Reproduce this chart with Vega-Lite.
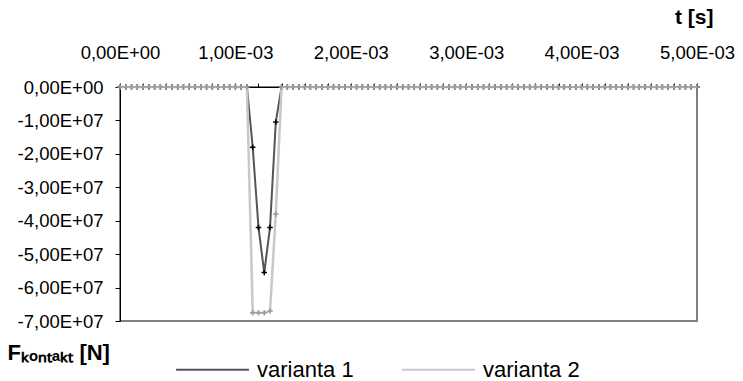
{
  "$schema": "https://vega.github.io/schema/vega-lite/v6.json",
  "autosize": "none",
  "width": 577,
  "height": 234,
  "padding": {"left": 120, "top": 87, "right": 46, "bottom": 60},
  "background": "white",
  "config": {
    "font": "Liberation Sans",
    "view": {"stroke": "#808080", "strokeWidth": 2},
    "axis": {"grid": false, "domainColor": "black", "tickColor": "black", "labelColor": "black", "titleColor": "black"}
  },
  "data": {"values": [
    {"t":0,"F":0,"s":"varianta 1"},{"t":0.00005,"F":0,"s":"varianta 1"},{"t":0.0001,"F":0,"s":"varianta 1"},{"t":0.00015,"F":0,"s":"varianta 1"},{"t":0.0002,"F":0,"s":"varianta 1"},{"t":0.00025,"F":0,"s":"varianta 1"},{"t":0.0003,"F":0,"s":"varianta 1"},{"t":0.00035,"F":0,"s":"varianta 1"},{"t":0.0004,"F":0,"s":"varianta 1"},{"t":0.00045,"F":0,"s":"varianta 1"},
    {"t":0.0005,"F":0,"s":"varianta 1"},{"t":0.00055,"F":0,"s":"varianta 1"},{"t":0.0006,"F":0,"s":"varianta 1"},{"t":0.00065,"F":0,"s":"varianta 1"},{"t":0.0007,"F":0,"s":"varianta 1"},{"t":0.00075,"F":0,"s":"varianta 1"},{"t":0.0008,"F":0,"s":"varianta 1"},{"t":0.00085,"F":0,"s":"varianta 1"},{"t":0.0009,"F":0,"s":"varianta 1"},{"t":0.00095,"F":0,"s":"varianta 1"},
    {"t":0.001,"F":0,"s":"varianta 1"},{"t":0.00105,"F":0,"s":"varianta 1"},{"t":0.0011,"F":0,"s":"varianta 1"},{"t":0.00115,"F":-18000000,"s":"varianta 1"},{"t":0.0012,"F":-42000000,"s":"varianta 1"},{"t":0.00125,"F":-55500000,"s":"varianta 1"},{"t":0.0013,"F":-42000000,"s":"varianta 1"},{"t":0.00135,"F":-10500000,"s":"varianta 1"},{"t":0.0014,"F":0,"s":"varianta 1"},{"t":0.00145,"F":0,"s":"varianta 1"},
    {"t":0.0015,"F":0,"s":"varianta 1"},{"t":0.00155,"F":0,"s":"varianta 1"},{"t":0.0016,"F":0,"s":"varianta 1"},{"t":0.00165,"F":0,"s":"varianta 1"},{"t":0.0017,"F":0,"s":"varianta 1"},{"t":0.00175,"F":0,"s":"varianta 1"},{"t":0.0018,"F":0,"s":"varianta 1"},{"t":0.00185,"F":0,"s":"varianta 1"},{"t":0.0019,"F":0,"s":"varianta 1"},{"t":0.00195,"F":0,"s":"varianta 1"},
    {"t":0.002,"F":0,"s":"varianta 1"},{"t":0.00205,"F":0,"s":"varianta 1"},{"t":0.0021,"F":0,"s":"varianta 1"},{"t":0.00215,"F":0,"s":"varianta 1"},{"t":0.0022,"F":0,"s":"varianta 1"},{"t":0.00225,"F":0,"s":"varianta 1"},{"t":0.0023,"F":0,"s":"varianta 1"},{"t":0.00235,"F":0,"s":"varianta 1"},{"t":0.0024,"F":0,"s":"varianta 1"},{"t":0.00245,"F":0,"s":"varianta 1"},
    {"t":0.0025,"F":0,"s":"varianta 1"},{"t":0.00255,"F":0,"s":"varianta 1"},{"t":0.0026,"F":0,"s":"varianta 1"},{"t":0.00265,"F":0,"s":"varianta 1"},{"t":0.0027,"F":0,"s":"varianta 1"},{"t":0.00275,"F":0,"s":"varianta 1"},{"t":0.0028,"F":0,"s":"varianta 1"},{"t":0.00285,"F":0,"s":"varianta 1"},{"t":0.0029,"F":0,"s":"varianta 1"},{"t":0.00295,"F":0,"s":"varianta 1"},
    {"t":0.003,"F":0,"s":"varianta 1"},{"t":0.00305,"F":0,"s":"varianta 1"},{"t":0.0031,"F":0,"s":"varianta 1"},{"t":0.00315,"F":0,"s":"varianta 1"},{"t":0.0032,"F":0,"s":"varianta 1"},{"t":0.00325,"F":0,"s":"varianta 1"},{"t":0.0033,"F":0,"s":"varianta 1"},{"t":0.00335,"F":0,"s":"varianta 1"},{"t":0.0034,"F":0,"s":"varianta 1"},{"t":0.00345,"F":0,"s":"varianta 1"},
    {"t":0.0035,"F":0,"s":"varianta 1"},{"t":0.00355,"F":0,"s":"varianta 1"},{"t":0.0036,"F":0,"s":"varianta 1"},{"t":0.00365,"F":0,"s":"varianta 1"},{"t":0.0037,"F":0,"s":"varianta 1"},{"t":0.00375,"F":0,"s":"varianta 1"},{"t":0.0038,"F":0,"s":"varianta 1"},{"t":0.00385,"F":0,"s":"varianta 1"},{"t":0.0039,"F":0,"s":"varianta 1"},{"t":0.00395,"F":0,"s":"varianta 1"},
    {"t":0.004,"F":0,"s":"varianta 1"},{"t":0.00405,"F":0,"s":"varianta 1"},{"t":0.0041,"F":0,"s":"varianta 1"},{"t":0.00415,"F":0,"s":"varianta 1"},{"t":0.0042,"F":0,"s":"varianta 1"},{"t":0.00425,"F":0,"s":"varianta 1"},{"t":0.0043,"F":0,"s":"varianta 1"},{"t":0.00435,"F":0,"s":"varianta 1"},{"t":0.0044,"F":0,"s":"varianta 1"},{"t":0.00445,"F":0,"s":"varianta 1"},
    {"t":0.0045,"F":0,"s":"varianta 1"},{"t":0.00455,"F":0,"s":"varianta 1"},{"t":0.0046,"F":0,"s":"varianta 1"},{"t":0.00465,"F":0,"s":"varianta 1"},{"t":0.0047,"F":0,"s":"varianta 1"},{"t":0.00475,"F":0,"s":"varianta 1"},{"t":0.0048,"F":0,"s":"varianta 1"},{"t":0.00485,"F":0,"s":"varianta 1"},{"t":0.0049,"F":0,"s":"varianta 1"},{"t":0.00495,"F":0,"s":"varianta 1"},
    {"t":0.005,"F":0,"s":"varianta 1"},
    {"t":0,"F":0,"s":"varianta 2"},{"t":0.00005,"F":0,"s":"varianta 2"},{"t":0.0001,"F":0,"s":"varianta 2"},{"t":0.00015,"F":0,"s":"varianta 2"},{"t":0.0002,"F":0,"s":"varianta 2"},{"t":0.00025,"F":0,"s":"varianta 2"},{"t":0.0003,"F":0,"s":"varianta 2"},{"t":0.00035,"F":0,"s":"varianta 2"},{"t":0.0004,"F":0,"s":"varianta 2"},{"t":0.00045,"F":0,"s":"varianta 2"},
    {"t":0.0005,"F":0,"s":"varianta 2"},{"t":0.00055,"F":0,"s":"varianta 2"},{"t":0.0006,"F":0,"s":"varianta 2"},{"t":0.00065,"F":0,"s":"varianta 2"},{"t":0.0007,"F":0,"s":"varianta 2"},{"t":0.00075,"F":0,"s":"varianta 2"},{"t":0.0008,"F":0,"s":"varianta 2"},{"t":0.00085,"F":0,"s":"varianta 2"},{"t":0.0009,"F":0,"s":"varianta 2"},{"t":0.00095,"F":0,"s":"varianta 2"},
    {"t":0.001,"F":0,"s":"varianta 2"},{"t":0.00105,"F":0,"s":"varianta 2"},{"t":0.0011,"F":0,"s":"varianta 2"},{"t":0.00115,"F":-67500000,"s":"varianta 2"},{"t":0.0012,"F":-67500000,"s":"varianta 2"},{"t":0.00125,"F":-67500000,"s":"varianta 2"},{"t":0.0013,"F":-67000000,"s":"varianta 2"},{"t":0.00135,"F":-38000000,"s":"varianta 2"},{"t":0.0014,"F":0,"s":"varianta 2"},{"t":0.00145,"F":0,"s":"varianta 2"},
    {"t":0.0015,"F":0,"s":"varianta 2"},{"t":0.00155,"F":0,"s":"varianta 2"},{"t":0.0016,"F":0,"s":"varianta 2"},{"t":0.00165,"F":0,"s":"varianta 2"},{"t":0.0017,"F":0,"s":"varianta 2"},{"t":0.00175,"F":0,"s":"varianta 2"},{"t":0.0018,"F":0,"s":"varianta 2"},{"t":0.00185,"F":0,"s":"varianta 2"},{"t":0.0019,"F":0,"s":"varianta 2"},{"t":0.00195,"F":0,"s":"varianta 2"},
    {"t":0.002,"F":0,"s":"varianta 2"},{"t":0.00205,"F":0,"s":"varianta 2"},{"t":0.0021,"F":0,"s":"varianta 2"},{"t":0.00215,"F":0,"s":"varianta 2"},{"t":0.0022,"F":0,"s":"varianta 2"},{"t":0.00225,"F":0,"s":"varianta 2"},{"t":0.0023,"F":0,"s":"varianta 2"},{"t":0.00235,"F":0,"s":"varianta 2"},{"t":0.0024,"F":0,"s":"varianta 2"},{"t":0.00245,"F":0,"s":"varianta 2"},
    {"t":0.0025,"F":0,"s":"varianta 2"},{"t":0.00255,"F":0,"s":"varianta 2"},{"t":0.0026,"F":0,"s":"varianta 2"},{"t":0.00265,"F":0,"s":"varianta 2"},{"t":0.0027,"F":0,"s":"varianta 2"},{"t":0.00275,"F":0,"s":"varianta 2"},{"t":0.0028,"F":0,"s":"varianta 2"},{"t":0.00285,"F":0,"s":"varianta 2"},{"t":0.0029,"F":0,"s":"varianta 2"},{"t":0.00295,"F":0,"s":"varianta 2"},
    {"t":0.003,"F":0,"s":"varianta 2"},{"t":0.00305,"F":0,"s":"varianta 2"},{"t":0.0031,"F":0,"s":"varianta 2"},{"t":0.00315,"F":0,"s":"varianta 2"},{"t":0.0032,"F":0,"s":"varianta 2"},{"t":0.00325,"F":0,"s":"varianta 2"},{"t":0.0033,"F":0,"s":"varianta 2"},{"t":0.00335,"F":0,"s":"varianta 2"},{"t":0.0034,"F":0,"s":"varianta 2"},{"t":0.00345,"F":0,"s":"varianta 2"},
    {"t":0.0035,"F":0,"s":"varianta 2"},{"t":0.00355,"F":0,"s":"varianta 2"},{"t":0.0036,"F":0,"s":"varianta 2"},{"t":0.00365,"F":0,"s":"varianta 2"},{"t":0.0037,"F":0,"s":"varianta 2"},{"t":0.00375,"F":0,"s":"varianta 2"},{"t":0.0038,"F":0,"s":"varianta 2"},{"t":0.00385,"F":0,"s":"varianta 2"},{"t":0.0039,"F":0,"s":"varianta 2"},{"t":0.00395,"F":0,"s":"varianta 2"},
    {"t":0.004,"F":0,"s":"varianta 2"},{"t":0.00405,"F":0,"s":"varianta 2"},{"t":0.0041,"F":0,"s":"varianta 2"},{"t":0.00415,"F":0,"s":"varianta 2"},{"t":0.0042,"F":0,"s":"varianta 2"},{"t":0.00425,"F":0,"s":"varianta 2"},{"t":0.0043,"F":0,"s":"varianta 2"},{"t":0.00435,"F":0,"s":"varianta 2"},{"t":0.0044,"F":0,"s":"varianta 2"},{"t":0.00445,"F":0,"s":"varianta 2"},
    {"t":0.0045,"F":0,"s":"varianta 2"},{"t":0.00455,"F":0,"s":"varianta 2"},{"t":0.0046,"F":0,"s":"varianta 2"},{"t":0.00465,"F":0,"s":"varianta 2"},{"t":0.0047,"F":0,"s":"varianta 2"},{"t":0.00475,"F":0,"s":"varianta 2"},{"t":0.0048,"F":0,"s":"varianta 2"},{"t":0.00485,"F":0,"s":"varianta 2"},{"t":0.0049,"F":0,"s":"varianta 2"},{"t":0.00495,"F":0,"s":"varianta 2"},
    {"t":0.005,"F":0,"s":"varianta 2"}
  ]},
  "encoding": {
    "x": {
      "field": "t", "type": "quantitative",
      "scale": {"domain": [0, 0.005], "nice": false, "zero": false},
      "axis": {
        "orient": "top",
        "values": [0,0.0002,0.0004,0.0006,0.0008,0.001,0.0012,0.0014,0.0016,0.0018,0.002,0.0022,0.0024,0.0026,0.0028,0.003,0.0032,0.0034,0.0036,0.0038,0.004,0.0042,0.0044,0.0046,0.0048,0.005],
        "labelExpr": "abs(datum.value*1000 - round(datum.value*1000)) < 0.000001 ? (datum.value == 0 ? '0,00E+00' : replace(format(datum.value*1000, '.2f'), '.', ',') + 'E-03') : ''",
        "labelFlush": false,
        "labelOverlap": false,
        "labelFontSize": 18.5,
        "labelBaseline": "alphabetic",
        "labelPadding": 25,
        "tickSize": 4,
        "domainWidth": 1,
        "title": "t [s]",
        "titleFontSize": 21,
        "titleFontWeight": "bold",
        "titleX": 593,
        "titleY": -64,
        "titleAlign": "right",
        "titleAnchor": null,
        "titleBaseline": "alphabetic"
      }
    },
    "y": {
      "field": "F", "type": "quantitative",
      "scale": {"domain": [-70000000, 0], "nice": false, "zero": false},
      "axis": {
        "orient": "left",
        "values": [-70000000,-60000000,-50000000,-40000000,-30000000,-20000000,-10000000,0],
        "labelExpr": "datum.value == 0 ? '0,00E+00' : (datum.value < 0 ? '-' : '') + replace(format(abs(datum.value)/10000000, '.2f'), '.', ',') + 'E+07'",
        "labelFontSize": 18.5,
        "labelPadding": 12,
        "tickSize": 5,
        "title": "Fₖₒₙₜₐₖₜ [N]",
        "titleFontSize": 22,
        "titleFontWeight": "bold",
        "titleAngle": 0,
        "titleX": -113,
        "titleY": 272,
        "titleAlign": "left",
        "titleAnchor": null,
        "titleBaseline": "alphabetic"
      }
    }
  },
  "layer": [
    {
      "transform": [{"filter": "datum.s == 'varianta 1'"}],
      "mark": {"type": "line", "strokeWidth": 2},
      "encoding": {
        "color": {
          "field": "s", "type": "nominal",
          "scale": {"domain": ["varianta 1", "varianta 2"], "range": ["#555555", "#c8c8c8"]},
          "legend": {
            "orient": "none", "legendX": 55, "legendY": 245, "direction": "horizontal",
            "title": null, "symbolType": "stroke", "symbolSize": 5300, "symbolStrokeWidth": 2,
            "labelFontSize": 22, "labelOffset": 7, "columnPadding": 44, "labelColor": "black"
          }
        }
      }
    },
    {
      "transform": [{"filter": "datum.s == 'varianta 1'"}],
      "mark": {"type": "point", "shape": "M-1,0H1M0,-1V1", "filled": false, "size": 30, "strokeWidth": 1.5, "color": "black", "opacity": 1},
      "encoding": {}
    },
    {
      "transform": [{"filter": "datum.s == 'varianta 2'"}],
      "mark": {"type": "line", "strokeWidth": 2.5},
      "encoding": {
        "color": {"field": "s", "type": "nominal"}
      }
    },
    {
      "transform": [{"filter": "datum.s == 'varianta 2'"}],
      "mark": {"type": "point", "shape": "M-1,0H1M0,-1V1", "filled": false, "size": 30, "strokeWidth": 1.5, "color": "#9a9a9a", "opacity": 1},
      "encoding": {}
    }
  ]
}
